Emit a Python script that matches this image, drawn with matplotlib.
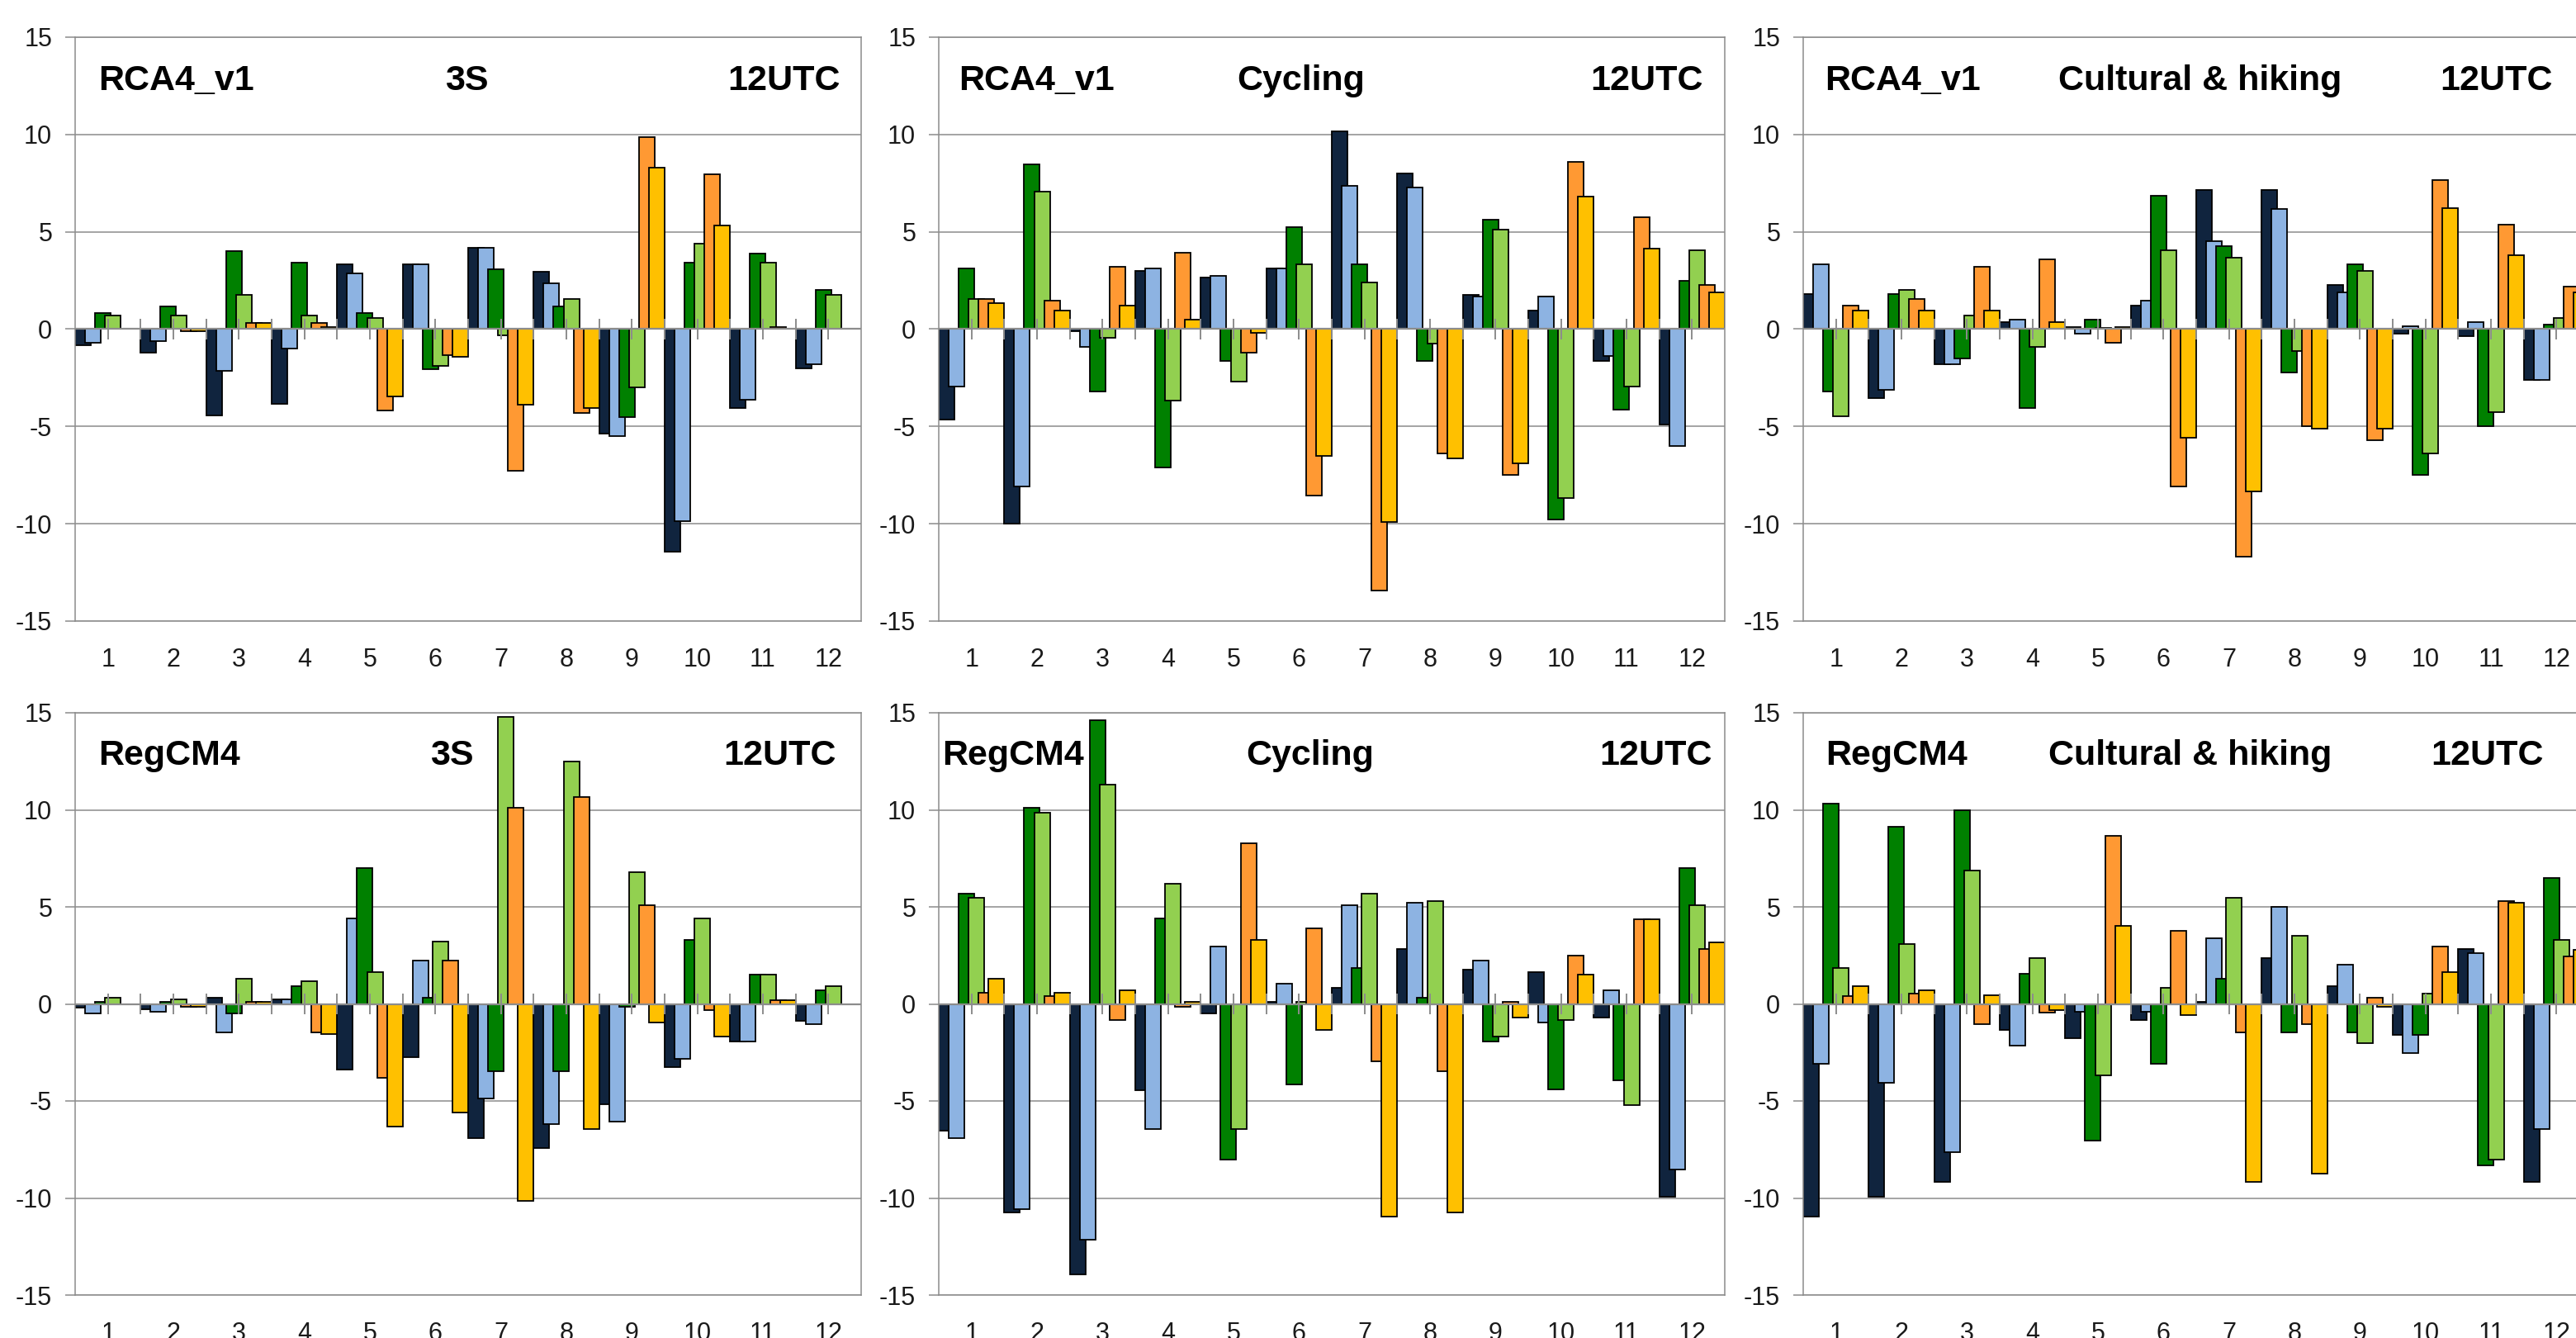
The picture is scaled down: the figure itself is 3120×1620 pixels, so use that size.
import numpy as np
import matplotlib.pyplot as plt

# -------------------------
# Data (bias per month, 6 series per panel)
# series order: navy, light blue, dark green, light green, orange, gold
# -------------------------
months = [1, 2, 3, 4, 5, 6, 7, 8, 9, 10, 11, 12]
yticks = [-15, -10, -5, 0, 5, 10, 15]

rca_3s = [
    [-0.83, -1.23, -4.43, -3.84, 3.31, 3.31, 4.17, 2.96, -5.37, -11.45, -4.06, -2.02],
    [-0.72, -0.6, -2.15, -0.99, 2.85, 3.31, 4.17, 2.37, -5.48, -9.87, -3.62, -1.8],
    [0.81, 1.18, 4.03, 3.42, 0.81, -2.04, 3.07, 1.18, -4.54, 3.42, 3.9, 2.0],
    [0.7, 0.7, 1.78, 0.7, 0.59, -1.9, -0.3, 1.54, -2.98, 4.39, 3.42, 1.78],
    [0.0, -0.1, 0.33, 0.33, -4.17, -1.32, -7.28, -4.3, 9.87, 7.94, 0.1, 0.0],
    [0.0, -0.1, 0.33, 0.1, -3.46, -1.43, -3.9, -4.06, 8.31, 5.33, 0.0, 0.0],
]
rca_cyc = [
    [-4.64, -10.0, -0.1, 2.99, 2.64, 3.1, 10.15, 8.0, 1.78, 0.97, -1.63, -4.88],
    [-2.95, -8.07, -0.92, 3.1, 2.75, 3.1, 7.38, 7.27, 1.67, 1.67, -1.36, -6.02],
    [3.12, 8.48, -3.2, -7.12, -1.63, 5.25, 3.34, -1.63, 5.63, -9.76, -4.15, 2.5],
    [1.54, 7.05, -0.44, -3.67, -2.68, 3.34, 2.4, -0.75, 5.12, -8.66, -2.95, 4.04],
    [1.56, 1.45, 3.2, 3.93, -1.19, -8.57, -13.45, -6.4, -7.47, 8.59, 5.74, 2.26],
    [1.32, 0.97, 1.19, 0.48, -0.2, -6.5, -9.89, -6.64, -6.9, 6.79, 4.15, 1.89],
]
rca_cul = [
    [1.82, -3.56, -1.8, 0.37, 0.1, 1.19, 7.16, 7.16, 2.26, -0.22, -0.37, -2.62],
    [3.34, -3.1, -1.8, 0.48, -0.22, 1.45, 4.53, 6.18, 1.89, 0.13, 0.37, -2.62],
    [-3.2, 1.82, -1.52, -4.04, 0.48, 6.84, 4.26, -2.24, 3.34, -7.47, -4.99, 0.24],
    [-4.48, 2.02, 0.68, -0.92, 0.05, 4.04, 3.69, -1.14, 2.99, -6.4, -4.26, 0.57],
    [1.19, 1.56, 3.2, 3.58, -0.68, -8.07, -11.67, -4.99, -5.69, 7.65, 5.36, 2.18],
    [0.97, 0.97, 0.97, 0.37, 0.1, -5.58, -8.33, -5.1, -5.1, 6.2, 3.8, 1.89],
]
reg_3s = [
    [-0.18, -0.28, 0.33, 0.22, -3.38, -2.76, -6.91, -7.41, -5.15, -3.25, -1.93, -0.88],
    [-0.5, -0.39, -1.45, 0.22, 4.39, 2.24, -4.89, -6.2, -6.05, -2.85, -1.93, -1.05],
    [0.1, 0.1, -0.5, 0.92, 7.0, 0.33, -3.46, -3.46, -0.15, 3.29, 1.51, 0.7],
    [0.33, 0.22, 1.29, 1.16, 1.62, 3.2, 14.78, 12.48, 6.78, 4.39, 1.51, 0.92],
    [0.0, -0.15, 0.1, -1.45, -3.82, 2.24, 10.09, 10.68, 5.09, -0.33, 0.2, 0.0],
    [0.0, -0.15, 0.1, -1.56, -6.32, -5.6, -10.13, -6.43, -0.96, -1.67, 0.2, 0.0],
]
reg_cyc = [
    [-6.54, -10.75, -13.95, -4.45, -0.5, 0.1, 0.81, 2.85, 1.75, 1.64, -0.72, -9.93],
    [-6.91, -10.59, -12.13, -6.43, 2.94, 1.03, 5.09, 5.2, 2.24, -0.96, 0.7, -8.55],
    [5.68, 10.11, 14.63, 4.39, -8.0, -4.17, 1.86, 0.31, -1.93, -4.41, -3.95, 7.0],
    [5.46, 9.85, 11.29, 6.18, -6.43, 0.1, 5.68, 5.31, -1.67, -0.83, -5.22, 5.09],
    [0.57, 0.42, -0.83, -0.15, 8.29, 3.88, -2.96, -3.46, 0.1, 2.5, 4.36, 2.83],
    [1.29, 0.57, 0.7, 0.1, 3.31, -1.34, -10.96, -10.75, -0.72, 1.51, 4.36, 3.18],
]
reg_cul = [
    [-10.96, -9.93, -9.17, -1.34, -1.78, -0.83, 0.1, 2.35, 0.92, -1.6, 2.85, -9.17],
    [-3.07, -4.06, -7.63, -2.15, -0.39, -0.39, 3.4, 4.98, 2.02, -2.52, 2.61, -6.43],
    [10.33, 9.14, 9.98, 1.54, -7.04, -3.07, 1.29, -1.45, -1.45, -1.6, -8.33, 6.51],
    [1.86, 3.07, 6.89, 2.35, -3.68, 0.81, 5.46, 3.51, -2.04, 0.55, -8.0, 3.29],
    [0.42, 0.55, -1.05, -0.46, 8.66, 3.77, -1.45, -1.05, 0.31, 2.94, 5.31, 2.46],
    [0.92, 0.7, 0.44, -0.33, 4.04, -0.57, -9.17, -8.73, -0.15, 1.62, 5.2, 2.79],
]

models = ["RCA4_v1", "RCA4_v1", "RCA4_v1", "RegCM4", "RegCM4", "RegCM4"]
activities = ["3S", "Cycling", "Cultural & hiking", "3S", "Cycling", "Cultural & hiking"]
panels = [rca_3s, rca_cyc, rca_cul, reg_3s, reg_cyc, reg_cul]

colors = ["#10243e", "#8db3e2", "#008000", "#92d050", "#ff9933", "#ffc000"]

# -------------------------
# Layout (figure pixels of the reference)
# -------------------------
W, H = 3120, 1620
col_left = [91, 1137, 2184]
ax_w = 952
row_top = [45, 863]
ax_h = [707, 705]

# title x positions in axes fraction: model (left), activity (center), UTC (right)
title_x = [
    (0.030, 0.498, 0.974),
    (0.025, 0.461, 0.972),
    (0.027, 0.505, 0.954),
    (0.030, 0.479, 0.968),
    (0.004, 0.472, 0.984),
    (0.029, 0.492, 0.942),
]

plt.rcParams["font.family"] = ["Liberation Sans", "DejaVu Sans"]
plt.rcParams["axes.unicode_minus"] = False
fig = plt.figure(figsize=(W / 100, H / 100), dpi=100)

bar_w = 0.24
step = (1 - bar_w) / 5
grid_col = "#8c8c8c"
x = np.array(months, dtype=float)

for k, data in enumerate(panels):
    r, c = divmod(k, 3)
    rect = [col_left[c] / W, 1 - (row_top[r] + ax_h[r]) / H, ax_w / W, ax_h[r] / H]
    ax = fig.add_axes(rect)

    for i, vals in enumerate(data):
        ax.bar(x - 0.5 + i * step, vals, width=bar_w, align="edge",
               color=colors[i], edgecolor="black", linewidth=1.3, zorder=2)

    # zero axis with small ticks at every half category
    ax.axhline(0, color=grid_col, lw=1.6, zorder=4)
    ax.vlines(np.arange(1, 12.5, 0.5), -0.55, 0.55, color=grid_col, lw=1.4, zorder=4)

    ax.set_xlim(0.5, 12.5)
    ax.set_ylim(-15, 15)
    ax.set_yticks(yticks)
    ax.set_xticks(months)
    ax.yaxis.grid(True, color=grid_col, lw=1.1)
    ax.set_axisbelow(True)
    ax.tick_params(axis="y", length=9, width=1.1, color=grid_col, pad=11,
                   labelsize=22, labelcolor="#1a1a1a")
    ax.tick_params(axis="x", length=0, pad=23, labelsize=22, labelcolor="#1a1a1a")
    for sp in ax.spines.values():
        sp.set_color(grid_col)
        sp.set_linewidth(1.1)

    ty = 0.91
    tx = title_x[k]
    kw = dict(transform=ax.transAxes, fontsize=31, fontweight="bold", va="baseline")
    ax.text(tx[0], ty, models[k], ha="left", **kw)
    ax.text(tx[1], ty, activities[k], ha="center", **kw)
    ax.text(tx[2], ty, "12UTC", ha="right", **kw)

plt.savefig("out.png", dpi=100)
